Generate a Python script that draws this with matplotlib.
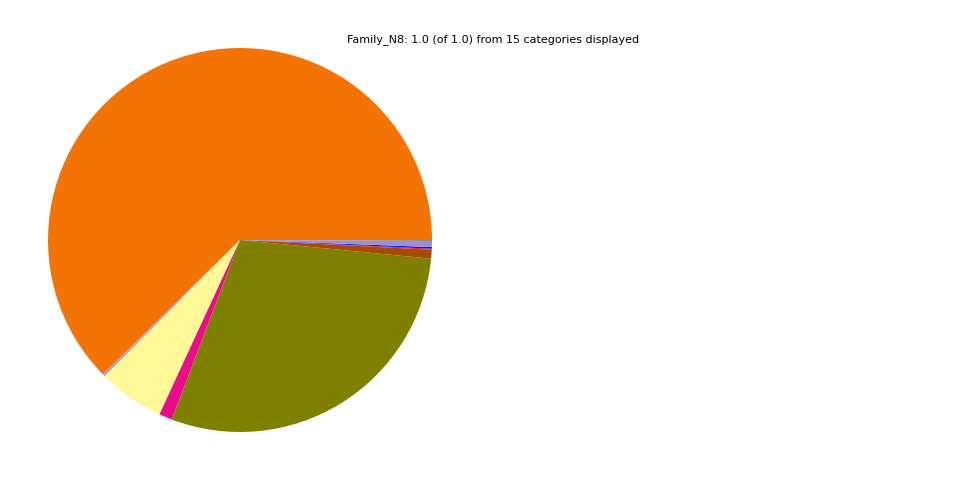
import matplotlib
matplotlib.use("Agg")
import matplotlib.pyplot as plt

# slice sizes (degrees of the circle), counter-clockwise from 3 o'clock
categories = ["c01", "c02", "c03", "c04", "c05", "c06", "c07", "c08",
              "c09", "c10", "c11", "c12", "c13", "c14", "c15"]
sizes = [224.4, 0.8, 20.0, 4.0, 105.2, 2.7, 0.3, 0.5, 1.8, 0.3,
         0.0, 0.0, 0.0, 0.0, 0.0]
colors = ["#f37305", "#a99fd8", "#fff899", "#ec0a8c", "#808000", "#a64b00",
          "#e41a1c", "#1414f0", "#a08cd0", "#7f8fa0",
          "#cccccc", "#cccccc", "#cccccc", "#cccccc", "#cccccc"]
title = "Family_N8: 1.0 (of 1.0) from 15 categories displayed"

fig = plt.figure(figsize=(9.6, 4.8), dpi=100)
ax = fig.add_axes([0, 0, 0.5, 1])
ax.pie(sizes, colors=colors, startangle=0, counterclock=True)
ax.set_aspect("equal")

fig.text(0.5135, 0.918, title, ha="center", va="center", fontsize=8)

fig.savefig("out.png", dpi=100)
